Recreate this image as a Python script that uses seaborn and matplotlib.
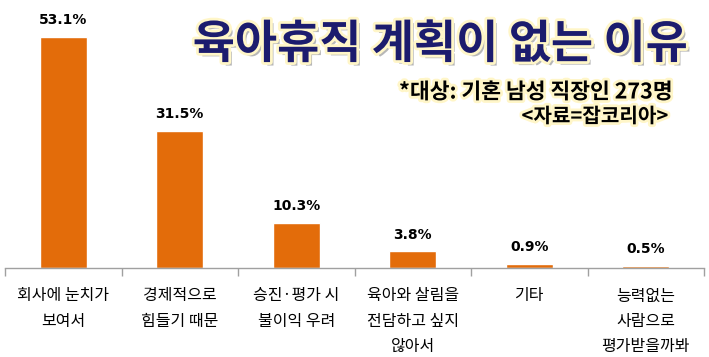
import matplotlib
matplotlib.use("Agg")
import matplotlib.pyplot as plt
import matplotlib.patheffects as pe
import seaborn as sns
import pandas as pd

categories = ["회사에 눈치가\n보여서", "경제적으로\n힘들기 때문", "승진·평가 시\n불이익 우려",
              "육아와 살림을\n전담하고 싶지\n않아서", "기타", "능력없는\n사람으로\n평가받을까봐"]
values = [53.1, 31.5, 10.3, 3.8, 0.9, 0.5]
value_labels = ["53.1%", "31.5%", "10.3%", "3.8%", "0.9%", "0.5%"]
title = "육아휴직 계획이 없는 이유"
subtitle1 = "*대상: 기혼 남성 직장인 273명"
subtitle2 = "<자료=잡코리아>"

sns.set_theme(style="white")
plt.rcParams['font.family'] = ['Noto Sans CJK KR', 'DejaVu Sans']

df = pd.DataFrame({"cat": categories, "val": values})

fig = plt.figure(figsize=(7.09, 3.57), dpi=100)
ax = fig.add_axes([5/709, 1-268/357, 699/709, 258/357])
sns.barplot(data=df, x="cat", y="val", color="#E36C0A", saturation=1, width=0.4, ax=ax)
ax.set_xlim(-0.5, len(categories)-0.5)
ax.set_ylim(0, 59.3)
ax.set_xlabel("")
ax.set_ylabel("")
ax.set_yticks([])
for s in ["top", "left", "right"]:
    ax.spines[s].set_visible(False)
ax.spines["bottom"].set_color("#A0A0A0")
ax.spines["bottom"].set_linewidth(1)

ax.set_xticks(range(len(categories)))
ax.set_xticklabels(categories, fontsize=11.5, linespacing=1.62, va="top")
ax.tick_params(axis="x", which="major", length=0, pad=14, colors="black")
ax.set_xticks([i - 0.5 for i in range(len(categories)+1)], minor=True)
ax.tick_params(axis="x", which="minor", length=6, width=1, color="#A0A0A0", direction="out", bottom=True)

for i, (v, lab) in enumerate(zip(values, value_labels)):
    ax.annotate(lab, (i, v), xytext=(0, 7), textcoords="offset points",
                ha="center", va="bottom", fontsize=10, fontweight="bold",
                family=["DejaVu Sans"], color="black")

glow = [pe.withSimplePatchShadow(offset=(2.5, -2.5), shadow_rgbFace="#888888", alpha=0.6),
        pe.Stroke(linewidth=4, foreground="#FFF6C8"), pe.Normal()]
fig.text(440/709, 1-45/357, title, ha="center", va="center", fontsize=33,
         fontweight="bold", color="#1C1C6E", path_effects=glow)

glow2 = [pe.Stroke(linewidth=4, foreground="#FFF6C8"), pe.Normal()]
fig.text(672/709, 1-92/357, subtitle1, ha="right", va="center", fontsize=15.5,
         fontweight="bold", color="black", path_effects=glow2)
fig.text(668/709, 1-116/357, subtitle2, ha="right", va="center", fontsize=14.5,
         fontweight="bold", color="black", path_effects=glow2)

fig.savefig("out.png", dpi=100)
